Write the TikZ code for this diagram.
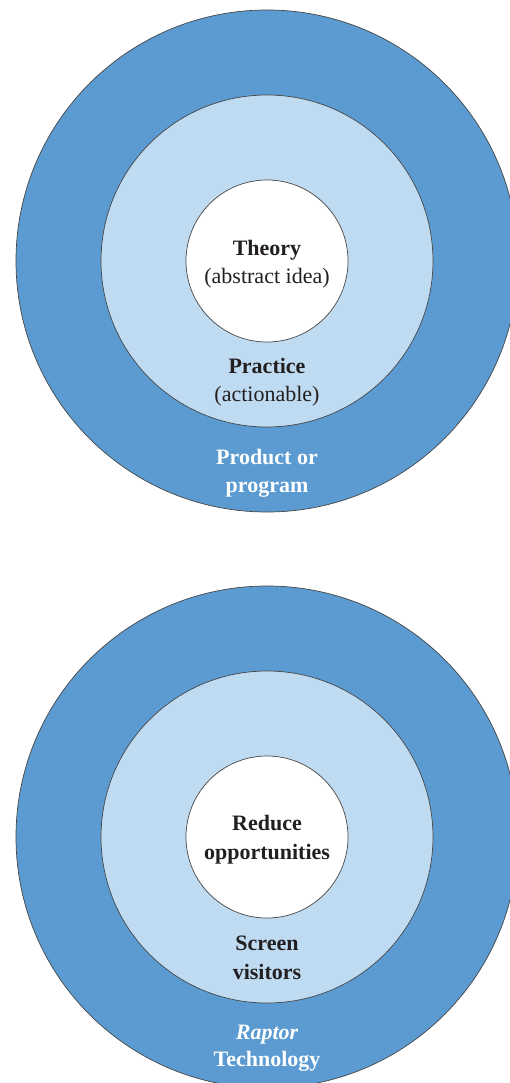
\documentclass[tikz,border=0pt]{standalone}
\usepackage{fontspec}
\setmainfont{Liberation Serif}
\definecolor{ringdark}{RGB}{91,155,209}
\definecolor{ringlight}{RGB}{190,219,242}
\definecolor{ringline}{RGB}{70,70,70}
\definecolor{inktext}{RGB}{35,31,32}
\begin{document}
\begin{tikzpicture}[x=1pt,y=-1pt,
  ring/.style={circle, inner sep=0pt, outer sep=0pt, draw=ringline, line width=0.7pt},
  outerring/.style={ring, fill=ringdark, minimum size=502pt},
  middlering/.style={ring, fill=ringlight, minimum size=332pt},
  innerring/.style={ring, fill=white, minimum size=162pt},
  lbl/.style={anchor=base, inner sep=0pt, font=\fontsize{22}{28}\selectfont, text=inktext},
  boldlbl/.style={lbl, font=\fontsize{22}{28}\selectfont\bfseries},
  whitelbl/.style={boldlbl, text=white}]
\useasboundingbox (0,0) rectangle (510,1083);

% upper set of rings
\node[outerring]  (outerA)  at (267,261) {};
\node[middlering] (middleA) at (267,261) {};
\node[innerring]  (innerA)  at (267,261) {};

\node[boldlbl]  (theory)   at (267,255)   {Theory};
\node[lbl]      (abstract) at (267,283.3) {(abstract idea)};
\node[boldlbl]  (practice) at (267,373.3) {Practice};
\node[lbl]      (action)   at (267,401.7) {(actionable)};
\node[whitelbl] (product)  at (267,464)   {Product or};
\node[whitelbl] (program)  at (267,492.7) {program};

% lower set of rings
\node[outerring]  (outerB)  at (267,837) {};
\node[middlering] (middleB) at (267,837) {};
\node[innerring]  (innerB)  at (267,837) {};

\node[boldlbl]  (reduce)  at (267,830)    {Reduce};
\node[boldlbl]  (opport)  at (267,859)    {opportunities};
\node[boldlbl]  (screen)  at (267,950.7)  {Screen};
\node[boldlbl]  (visitor) at (267,979.3)  {visitors};
\node[whitelbl, font=\fontsize{22}{28}\selectfont\bfseries\itshape] (raptor) at (267,1039.3) {Raptor};
\node[whitelbl] (tech)    at (267,1066.7) {Technology};
\end{tikzpicture}
\end{document}
